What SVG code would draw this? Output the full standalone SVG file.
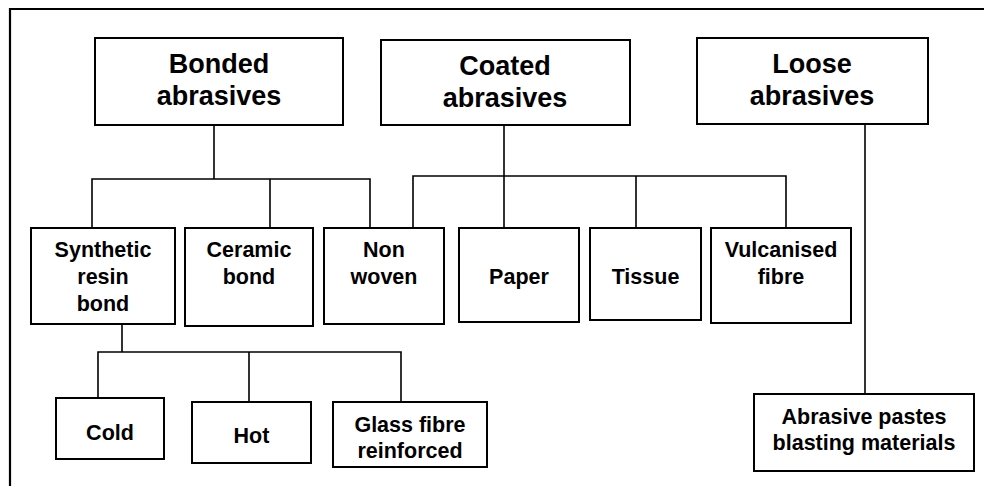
<svg xmlns="http://www.w3.org/2000/svg" width="984" height="486" viewBox="0 0 984 486">
<style>
.box{fill:#fff;stroke:#000;stroke-width:2}
.t{font-family:"Liberation Sans",Arial,sans-serif;font-weight:bold;text-anchor:middle;fill:#000}
.big{font-size:27px}
.sm{font-size:21.5px}
.ln{fill:none;stroke:#000;stroke-width:1.6}
</style>
<rect x="0" y="0" width="984" height="486" fill="#fff"/>
<path d="M10 486 V9 H984" fill="none" stroke="#000" stroke-width="2.2"/>
<g id="connectors" class="ln">
<path d="M214 125 V179 M92 228 V179 H370 V228 M270 179 V228"/>
<path d="M504 125 V176 M413 228 V176 H786 V228 M504 176 V228 M636 176 V228"/>
<path d="M865 124 V394"/>
<path d="M122 324 V352 M98 398 V352 H401 V402 M249 352 V402"/>
</g>
<g id="bonded"><rect class="box" x="95" y="38" width="248" height="87"/>
<text class="t big" x="219" y="73">Bonded</text><text class="t big" x="219" y="105">abrasives</text></g>
<g id="coated"><rect class="box" x="381" y="40" width="249" height="85"/>
<text class="t big" x="505" y="75">Coated</text><text class="t big" x="505" y="107">abrasives</text></g>
<g id="loose"><rect class="box" x="697" y="38" width="231" height="86"/>
<text class="t big" x="812" y="73">Loose</text><text class="t big" x="812" y="105">abrasives</text></g>
<g id="synthetic"><rect class="box" x="31" y="228" width="144" height="96"/>
<text class="t sm" x="103" y="257">Synthetic</text><text class="t sm" x="103" y="284">resin</text><text class="t sm" x="103" y="311">bond</text></g>
<g id="ceramic"><rect class="box" x="185" y="228" width="128" height="98"/>
<text class="t sm" x="249" y="257">Ceramic</text><text class="t sm" x="249" y="284">bond</text></g>
<g id="nonwoven"><rect class="box" x="324" y="228" width="120" height="96"/>
<text class="t sm" x="384" y="257">Non</text><text class="t sm" x="384" y="284">woven</text></g>
<g id="paper"><rect class="box" x="459" y="228" width="120" height="94"/>
<text class="t sm" x="519" y="284">Paper</text></g>
<g id="tissue"><rect class="box" x="590" y="228" width="111" height="92"/>
<text class="t sm" x="645.5" y="284">Tissue</text></g>
<g id="vulcanised"><rect class="box" x="711" y="228" width="140" height="95"/>
<text class="t sm" x="781" y="257">Vulcanised</text><text class="t sm" x="781" y="284">fibre</text></g>
<g id="cold"><rect class="box" x="56" y="398" width="108" height="61"/>
<text class="t sm" x="110" y="440">Cold</text></g>
<g id="hot"><rect class="box" x="192" y="402" width="119" height="61"/>
<text class="t sm" x="251.5" y="443">Hot</text></g>
<g id="glass"><rect class="box" x="333" y="402" width="154" height="65"/>
<text class="t sm" x="410" y="432">Glass fibre</text><text class="t sm" x="410" y="458">reinforced</text></g>
<g id="pastes"><rect class="box" x="754" y="394" width="220" height="77"/>
<text class="t sm" x="864" y="424">Abrasive pastes</text><text class="t sm" x="864" y="450">blasting materials</text></g>
</svg>
